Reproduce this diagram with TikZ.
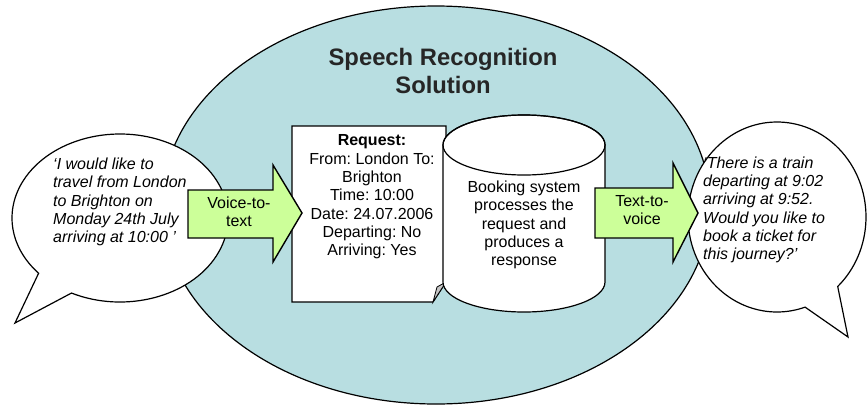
\documentclass[tikz,border=0pt]{standalone}
\usepackage{fontspec}
\setmainfont{Liberation Sans}
\usepackage{tikz}
\usetikzlibrary{positioning}

\definecolor{solnblue}{HTML}{B8DEE1}
\definecolor{convgreen}{HTML}{CCFF99}
\frenchspacing

\begin{document}
\begin{tikzpicture}[
    x=1pt, y=-1pt,
    every node/.style={font=\fontsize{16}{18.3}\selectfont, inner sep=0pt},
    outline/.style={draw=black, line width=1.2pt, line join=miter},
    bubble/.style={outline, fill=white},
    paper/.style={outline, fill=white},
    blockarrow/.style={outline, line width=1.4pt, fill=convgreen},
    quote/.style={align=left, font=\fontsize{16}{18.3}\selectfont\itshape},
]
\useasboundingbox (0,0) rectangle (868,405);

% solution area
\draw[outline, fill=solnblue] (436,205) ellipse[x radius=274pt, y radius=199pt];
\node[font=\fontsize{23.8}{28}\selectfont\bfseries, text=black!85, align=center] (title) at (443,71) {Speech Recognition\\Solution};

% speech bubbles
\draw[bubble] (120,218) ++(243.3:108pt and 84pt)
    arc[start angle=243.3, end angle=581.1, x radius=108pt, y radius=84pt] -- (15,323) -- cycle;
\draw[bubble] (777,217) ++(-47:89pt and 95pt)
    arc[start angle=-47, end angle=288.4, x radius=89pt, y radius=95pt] -- (848,337) -- cycle;
\node[quote, anchor=west] (caller) at (53,202) {`I would like to\\travel from London\\to Brighton on\\Monday 24th July\\arriving at 10:00 '};
\node[quote, anchor=west] (reply) at (703,210) {`There is a train\\departing at 9:02\\arriving at 9:52.\\Would you like to\\book a ticket for\\this journey?'};

% request sheet
\draw[paper] (292,126) -- (446,126) -- (446,282) -- (433,302) -- (292,302) -- cycle;
\draw[outline, line width=0.8pt, fill=gray!45] (446,282) -- (433,302) -- (437,287) -- cycle;
\node[align=center] (request) at (372,197) {\textbf{Request:}\\From: London To:\\Brighton\\Time: 10:00\\Date: 24.07.2006\\Departing: No\\Arriving: Yes};

% booking system
\draw[paper] (443,145) -- (443,282) arc[start angle=180, end angle=360, x radius=81pt, y radius=30pt]
    -- (605,145) arc[start angle=0, end angle=180, x radius=81pt, y radius=30pt] -- cycle;
\draw[outline] (524,145) ellipse[x radius=81pt, y radius=30pt];
\node[align=center] (booking) at (524,225) {Booking system\\processes the\\request and\\produces a\\response};

% conversions
\draw[blockarrow] (188,190) -- (273,190) -- (273,165) -- (302,213) -- (273,262) -- (273,238) -- (188,238) -- cycle;
\node[align=center] (v2t) at (239,212) {Voice-to-\\text};
\draw[blockarrow] (595,188) -- (673,188) -- (673,163) -- (698,213) -- (673,262) -- (673,238) -- (595,238) -- cycle;
\node[align=center] (t2v) at (642,210) {Text-to-\\voice};
\end{tikzpicture}
\end{document}
